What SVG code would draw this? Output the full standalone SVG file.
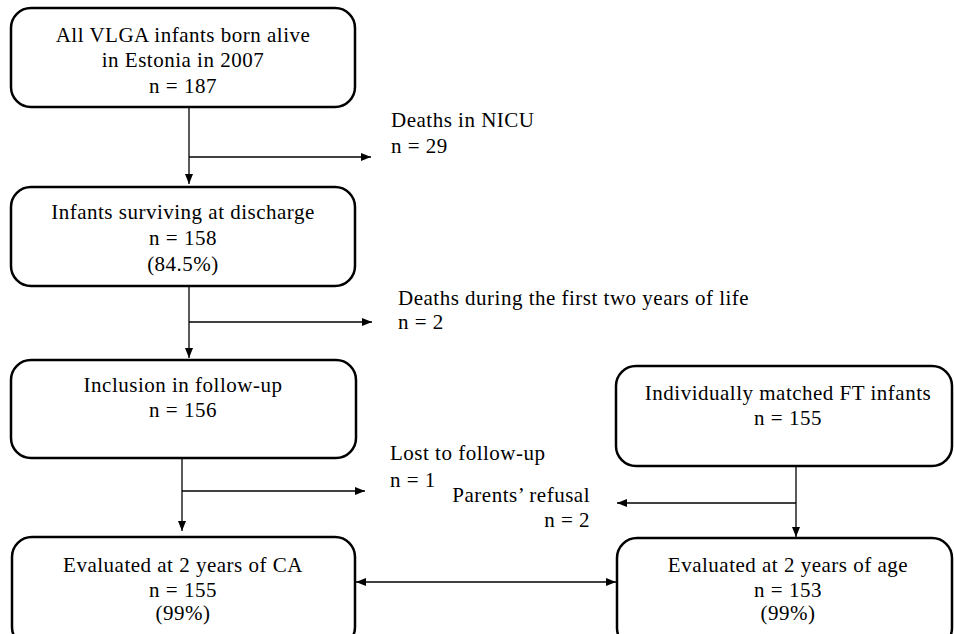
<svg xmlns="http://www.w3.org/2000/svg" width="954" height="634" viewBox="0 0 954 634">
<style>
.box{fill:#fff;stroke:#000;stroke-width:2.5}
text{font-family:"Liberation Serif","Times New Roman",serif;font-size:21px;letter-spacing:0.5px;fill:#000}
.c{text-anchor:middle}
.r{text-anchor:end}
.ln{fill:none;stroke:#000;stroke-width:1.3}
</style>
<defs>
<marker id="ah" viewBox="0 0 10 10" refX="10" refY="5" markerWidth="10" markerHeight="10" markerUnits="userSpaceOnUse" orient="auto-start-reverse">
<path d="M0,1 L10,5 L0,9 Z" fill="#000"/>
</marker>
</defs>
<rect width="954" height="634" fill="#fff"/>
<g id="n1"><rect class="box" x="11" y="8" width="344" height="99" rx="20"/>
<text class="c" x="183" y="42">All VLGA infants born alive</text>
<text class="c" x="183" y="67">in Estonia in 2007</text>
<text class="c" x="183" y="93">n = 187</text></g>
<g id="n2"><rect class="box" x="11" y="187" width="344" height="99" rx="20"/>
<text class="c" x="183" y="219">Infants surviving at discharge</text>
<text class="c" x="183" y="245">n = 158</text>
<text class="c" x="183" y="271">(84.5%)</text></g>
<g id="n3"><rect class="box" x="11" y="360" width="345" height="98" rx="20"/>
<text class="c" x="183" y="392">Inclusion in follow-up</text>
<text class="c" x="183" y="417">n = 156</text></g>
<g id="n4"><rect class="box" x="616" y="366" width="336" height="100" rx="20"/>
<text class="c" x="788" y="400">Individually matched FT infants</text>
<text class="c" x="788" y="425">n = 155</text></g>
<g id="n5"><rect class="box" x="12" y="537" width="343" height="110" rx="20"/>
<text class="c" x="183" y="572">Evaluated at 2 years of CA</text>
<text class="c" x="183" y="597">n = 155</text>
<text class="c" x="183" y="620">(99%)</text></g>
<g id="n6"><rect class="box" x="617" y="538" width="335" height="110" rx="20"/>
<text class="c" x="788" y="572">Evaluated at 2 years of age</text>
<text class="c" x="788" y="597">n = 153</text>
<text class="c" x="788" y="620">(99%)</text></g>
<g id="e1"><text x="391" y="127">Deaths in NICU</text><text x="391" y="153">n = 29</text></g>
<g id="e2"><text x="398" y="305">Deaths during the first two years of life</text><text x="398" y="329">n = 2</text></g>
<g id="e3"><text x="390" y="460">Lost to follow-up</text><text x="390" y="487">n = 1</text></g>
<g id="e4"><text class="r" x="590" y="502">Parents’ refusal</text><text class="r" x="590" y="527">n = 2</text></g>
<g id="connectors">
<line class="ln" x1="189" y1="107" x2="189" y2="184" marker-end="url(#ah)"/>
<line class="ln" x1="189" y1="157" x2="371" y2="157" marker-end="url(#ah)"/>
<line class="ln" x1="189" y1="286" x2="189" y2="358" marker-end="url(#ah)"/>
<line class="ln" x1="189" y1="322" x2="372" y2="322" marker-end="url(#ah)"/>
<line class="ln" x1="182" y1="458" x2="182" y2="531" marker-end="url(#ah)"/>
<line class="ln" x1="182" y1="491" x2="365" y2="491" marker-end="url(#ah)"/>
<line class="ln" x1="796" y1="466" x2="796" y2="537" marker-end="url(#ah)"/>
<line class="ln" x1="796" y1="503" x2="617" y2="503" marker-end="url(#ah)"/>
<line class="ln" x1="356" y1="582" x2="616" y2="582" marker-start="url(#ah)" marker-end="url(#ah)"/>
</g>
</svg>
